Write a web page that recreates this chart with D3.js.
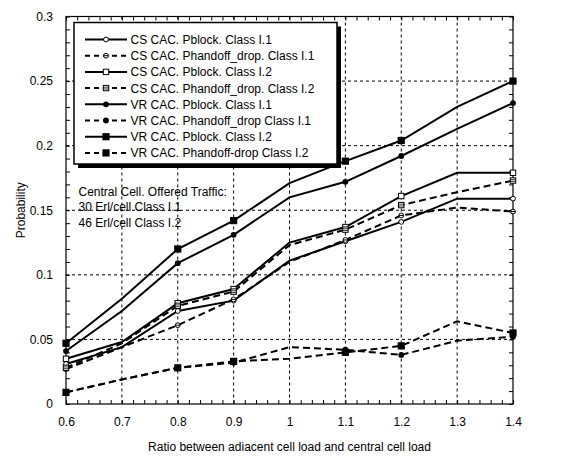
<!DOCTYPE html>
<html lang="en">
<head>
    <meta charset="UTF-8">
    <title>CAC probability chart</title>
    <script src="https://d3js.org/d3.v7.min.js"></script>
    <style>
        body { margin: 0; background: #fff; }
        text { font-family: "Liberation Sans", Arial, sans-serif; font-size: 12px; fill: #000; }
        .grid line { stroke: #000; stroke-width: 1; stroke-dasharray: 3,3; }
        .axis path { display: none; }
        .axis line { stroke: #000; }
    </style>
</head>
<body>
<script>
// ratios on the x axis
var ratios = [0.6, 0.7, 0.8, 0.9, 1.0, 1.1, 1.2, 1.3, 1.4];
// ratios where the original chart shows a marker
var markerRatios = [0.6, 0.8, 0.9, 1.1, 1.2, 1.4];

// series values (probability)
var csBlock1   = [0.031, 0.044, 0.072, 0.080, 0.111, 0.126, 0.141, 0.159, 0.159];
var csHand1    = [0.027, 0.044, 0.061, 0.081, 0.110, 0.127, 0.146, 0.152, 0.149];
var csBlock2   = [0.035, 0.048, 0.078, 0.089, 0.125, 0.137, 0.161, 0.179, 0.179];
var csHand2    = [0.028, 0.047, 0.076, 0.087, 0.123, 0.135, 0.154, 0.164, 0.173];
var vrBlock1   = [0.041, 0.072, 0.109, 0.131, 0.160, 0.172, 0.192, 0.213, 0.233];
var vrHand1    = [0.009, 0.019, 0.028, 0.032, 0.044, 0.042, 0.038, 0.049, 0.052];
var vrBlock2   = [0.047, 0.0815, 0.120, 0.142, 0.171, 0.188, 0.204, 0.230, 0.250];
var vrHand2    = [0.009, 0.019, 0.028, 0.033, 0.035, 0.040, 0.045, 0.064, 0.055];

var legendNames = [
    "CS CAC. Pblock. Class I.1",
    "CS CAC. Phandoff_drop. Class I.1",
    "CS CAC. Pblock. Class I.2",
    "CS CAC. Phandoff_drop. Class I.2",
    "VR CAC. Pblock. Class I.1",
    "VR CAC. Phandoff_drop Class I.1",
    "VR CAC. Pblock. Class I.2",
    "VR CAC. Phandoff-drop Class I.2"
];
var noteLines = ["Central Cell. Offered Traffic:", "30 Erl/cell Class I.1", "46 Erl/cell Class I.2"];

var xTicks = [0.6, 0.7, 0.8, 0.9, 1, 1.1, 1.2, 1.3, 1.4];
var yTicks = [0, 0.05, 0.1, 0.15, 0.2, 0.25, 0.3];

var series = [
    {name: legendNames[0], values: csBlock1, dashed: false, marker: "openCircle"},
    {name: legendNames[1], values: csHand1,  dashed: true,  marker: "lineCircle"},
    {name: legendNames[2], values: csBlock2, dashed: false, marker: "openSquare"},
    {name: legendNames[3], values: csHand2,  dashed: true,  marker: "lineSquare"},
    {name: legendNames[4], values: vrBlock1, dashed: false, marker: "dot"},
    {name: legendNames[5], values: vrHand1,  dashed: true,  marker: "dot"},
    {name: legendNames[6], values: vrBlock2, dashed: false, marker: "bigSquare"},
    {name: legendNames[7], values: vrHand2,  dashed: true,  marker: "bigSquare"}
];

var width = 567, height = 457;
var plotLeft = 66, plotRight = 513, plotTop = 16.5, plotBottom = 404;

var svg = d3.select("body").append("svg")
    .attr("width", width)
    .attr("height", height);

var x = d3.scaleLinear().domain([0.6, 1.4]).range([plotLeft, plotRight]);
var y = d3.scaleLinear().domain([0, 0.3]).range([plotBottom, plotTop]);

// dashed grid at the inner major ticks
var grid = svg.append("g").attr("class", "grid");
grid.selectAll(".vg")
    .data(xTicks.slice(1, -1))
    .enter().append("line")
    .attr("x1", function(d) { return x(d); })
    .attr("x2", function(d) { return x(d); })
    .attr("y1", plotTop).attr("y2", plotBottom);
grid.selectAll(".hg")
    .data(yTicks.slice(1, -1))
    .enter().append("line")
    .attr("y1", function(d) { return y(d); })
    .attr("y2", function(d) { return y(d); })
    .attr("x1", plotLeft).attr("x2", plotRight);

// minor ticks, pointing inward on all four sides
var xMinor = d3.range(0, 41).map(function(i) { return 0.6 + i * 0.02; });
var yMinor = d3.range(0, 31).map(function(i) { return i * 0.01; });

svg.append("g").attr("class", "axis")
    .attr("transform", "translate(0," + plotBottom + ")")
    .call(d3.axisBottom(x).tickValues(xMinor).tickSize(-4).tickFormat(""));
svg.append("g").attr("class", "axis")
    .attr("transform", "translate(0," + plotTop + ")")
    .call(d3.axisTop(x).tickValues(xMinor).tickSize(-4).tickFormat(""));
svg.append("g").attr("class", "axis")
    .attr("transform", "translate(" + plotLeft + ",0)")
    .call(d3.axisLeft(y).tickValues(yMinor).tickSize(-4).tickFormat(""));
svg.append("g").attr("class", "axis")
    .attr("transform", "translate(" + plotRight + ",0)")
    .call(d3.axisRight(y).tickValues(yMinor).tickSize(-4).tickFormat(""));

// tick labels
svg.append("g").attr("class", "axis")
    .attr("transform", "translate(0," + plotBottom + ")")
    .call(d3.axisBottom(x).tickValues(xTicks).tickSize(0).tickPadding(13)
        .tickFormat(function(d) { return String(d); }))
    .selectAll("text").style("font-size", "12px").style("font-family", "Liberation Sans, Arial, sans-serif").attr("fill", "#000");
svg.append("g").attr("class", "axis")
    .attr("transform", "translate(" + plotLeft + ",0)")
    .call(d3.axisLeft(y).tickValues(yTicks).tickSize(0).tickPadding(13)
        .tickFormat(function(d) { return String(d); }))
    .selectAll("text").style("font-size", "12px").style("font-family", "Liberation Sans, Arial, sans-serif").attr("fill", "#000");

// plot frame
svg.append("rect")
    .attr("x", plotLeft).attr("y", plotTop)
    .attr("width", plotRight - plotLeft).attr("height", plotBottom - plotTop)
    .attr("fill", "none").attr("stroke", "#000").attr("stroke-width", 1.2);

// lines
var line = d3.line()
    .x(function(d, i) { return x(ratios[i]); })
    .y(function(d) { return y(d); });

svg.selectAll(".series")
    .data(series)
    .enter().append("path")
    .attr("class", "series")
    .attr("d", function(s) { return line(s.values); })
    .attr("fill", "none")
    .attr("stroke", "#000")
    .attr("stroke-width", 2)
    .attr("stroke-dasharray", function(s) { return s.dashed ? "7,4" : null; });

function drawMarker(g, type) {
    if (type === "openCircle") {
        g.append("circle").attr("r", 2.4).attr("fill", "#fff").attr("stroke", "#000").attr("stroke-width", 1);
    } else if (type === "lineCircle") {
        g.append("circle").attr("r", 2.4).attr("fill", "#fff").attr("stroke", "#000").attr("stroke-width", 1);
        g.append("line").attr("x1", -2.4).attr("x2", 2.4).attr("stroke", "#000").attr("stroke-width", 1);
    } else if (type === "openSquare") {
        g.append("rect").attr("x", -2.7).attr("y", -2.7).attr("width", 5.4).attr("height", 5.4)
            .attr("fill", "#fff").attr("stroke", "#000").attr("stroke-width", 1);
    } else if (type === "lineSquare") {
        g.append("rect").attr("x", -2.7).attr("y", -2.7).attr("width", 5.4).attr("height", 5.4)
            .attr("fill", "#fff").attr("stroke", "#000").attr("stroke-width", 1);
        g.append("line").attr("x1", -2.7).attr("x2", 2.7).attr("y1", -0.9).attr("y2", -0.9).attr("stroke", "#000").attr("stroke-width", 0.8);
        g.append("line").attr("x1", -2.7).attr("x2", 2.7).attr("y1", 0.9).attr("y2", 0.9).attr("stroke", "#000").attr("stroke-width", 0.8);
    } else if (type === "dot") {
        g.append("circle").attr("r", 2.9).attr("fill", "#000");
    } else if (type === "bigSquare") {
        g.append("rect").attr("x", -3.6).attr("y", -3.6).attr("width", 7.2).attr("height", 7.2).attr("fill", "#000");
    }
}

// markers (only at the ratios that carry one in the source chart)
series.forEach(function(s) {
    s.values.forEach(function(v, i) {
        if (markerRatios.indexOf(ratios[i]) < 0) return;
        var g = svg.append("g")
            .attr("transform", "translate(" + x(ratios[i]) + "," + y(v) + ")");
        drawMarker(g, s.marker);
    });
});

// legend box with drop shadow
var lg = svg.append("g");
var lx = 74, ly = 22.5, lw = 263, lh = 141.5;
lg.append("rect").attr("x", lx + 4).attr("y", ly + 4).attr("width", lw).attr("height", lh).attr("fill", "#000");
lg.append("rect").attr("x", lx).attr("y", ly).attr("width", lw).attr("height", lh)
    .attr("fill", "#fff").attr("stroke", "#000").attr("stroke-width", 1.5);

series.forEach(function(s, i) {
    var cy = 39.5 + i * 16.2;
    lg.append("line")
        .attr("x1", 85).attr("x2", 127).attr("y1", cy).attr("y2", cy)
        .attr("stroke", "#000").attr("stroke-width", 2)
        .attr("stroke-dasharray", s.dashed ? "5,4" : null);
    var m = lg.append("g").attr("transform", "translate(106," + cy + ")");
    drawMarker(m, s.marker);
    lg.append("text")
        .attr("x", 130.5).attr("y", cy + 4.4)
        .text(s.name);
});

// offered traffic note
svg.selectAll(".note")
    .data(noteLines)
    .enter().append("text")
    .attr("class", "note")
    .attr("x", 78.5)
    .attr("y", function(d, i) { return 196 + i * 15.4; })
    .text(function(d) { return d; });

// axis titles
svg.append("text")
    .attr("x", (plotLeft + plotRight) / 2)
    .attr("y", 451)
    .attr("text-anchor", "middle")
    .text("Ratio between adiacent cell load and central cell load");

svg.append("text")
    .attr("transform", "translate(25," + ((plotTop + plotBottom) / 2) + ") rotate(-90)")
    .attr("text-anchor", "middle")
    .text("Probability");
</script>
</body>
</html>
